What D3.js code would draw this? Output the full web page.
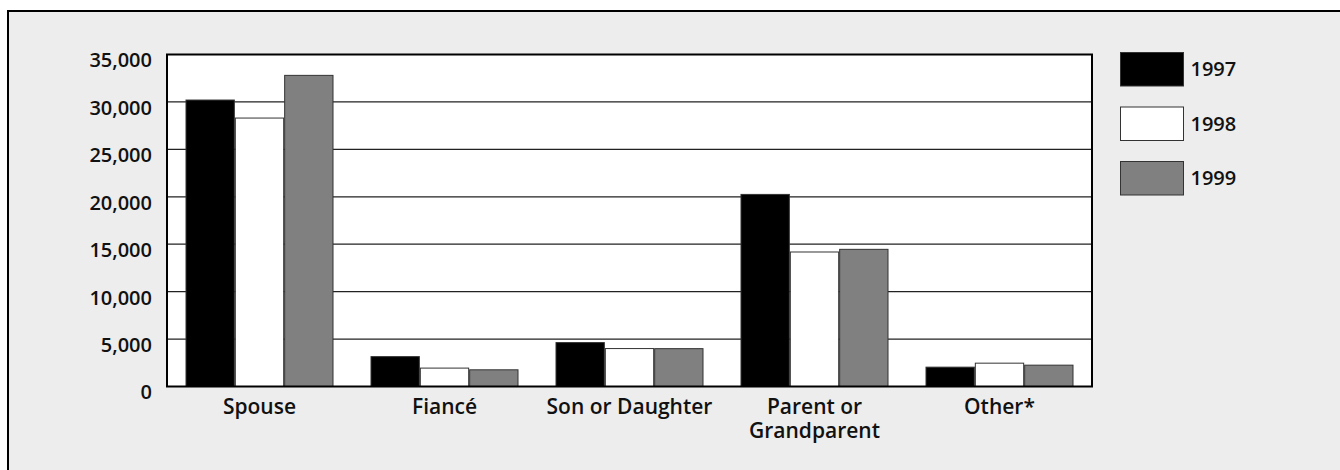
<!DOCTYPE html>
<html>
<head>
<meta charset="utf-8">
<script src="https://cdn.jsdelivr.net/npm/d3@7/dist/d3.min.js"></script>
<style>
  html, body { margin: 0; padding: 0; background: #ffffff; }
  svg { display: block; }
  text { font-family: "Open Sans", "DejaVu Sans", sans-serif; font-weight: 600; fill: #111; }
</style>
</head>
<body>
<svg id="chart" width="1340" height="470"></svg>
<script>
const categories = ["Spouse", "Fiancé", "Son or Daughter", "Parent or\nGrandparent", "Other*"];
const years = ["1997", "1998", "1999"];
const values1997 = [30200, 3150, 4630, 20250, 2040];
const values1998 = [28300, 1940, 4000, 14180, 2460];
const values1999 = [32800, 1760, 3990, 14460, 2250];
const yTicks = [0, 5000, 10000, 15000, 20000, 25000, 30000, 35000];
const colors = ["#000000", "#ffffff", "#808080"];

(function () {
const series = [values1997, values1998, values1999];
const svg = d3.select("#chart");

// outer frame
svg.append("rect").attr("x", 8).attr("y", 11).attr("width", 1400).attr("height", 500)
  .attr("fill", "#ededed").attr("stroke", "#000").attr("stroke-width", 2);

const pLeft = 167, pRight = 1092, pTop = 54.5, pBottom = 386.5;

const x = d3.scaleBand().domain(categories).range([pLeft, pRight]).paddingInner(0.2).paddingOuter(0.1);
const x1 = d3.scaleBand().domain(years).range([0, x.bandwidth()]).padding(0);
const y = d3.scaleLinear().domain([0, 35000]).range([pBottom, pTop]);
const fmt = d3.format(",");

// plot background
svg.append("rect").attr("x", pLeft).attr("y", pTop).attr("width", pRight - pLeft).attr("height", pBottom - pTop)
  .attr("fill", "#fff");

// gridlines
svg.append("g").selectAll("line").data(yTicks.filter(d => d > 0 && d < 35000)).join("line")
  .attr("x1", pLeft).attr("x2", pRight).attr("y1", d => y(d)).attr("y2", d => y(d))
  .attr("stroke", "#222").attr("stroke-width", 1.2);

// bars
const groups = svg.append("g").selectAll("g").data(categories).join("g")
  .attr("transform", d => `translate(${x(d)},0)`);
groups.selectAll("rect").data((c, ci) => years.map((yr, yi) => ({ yr, yi, v: series[yi][ci] }))).join("rect")
  .attr("x", d => x1(d.yr) + 0.5).attr("width", x1.bandwidth() - 1)
  .attr("y", d => y(d.v)).attr("height", d => pBottom - y(d.v))
  .attr("fill", d => colors[d.yi]).attr("stroke", "#333").attr("stroke-width", 1);

// plot border
svg.append("rect").attr("x", pLeft).attr("y", pTop).attr("width", pRight - pLeft).attr("height", pBottom - pTop)
  .attr("fill", "none").attr("stroke", "#000").attr("stroke-width", 2);

// y axis labels
const yAxis = d3.axisLeft(y).tickValues(yTicks).tickFormat(fmt).tickSize(0).tickPadding(15);
const ya = svg.append("g").attr("transform", `translate(${pLeft},0)`).call(yAxis);
ya.select(".domain").remove();
ya.selectAll("text").attr("font-size", 20).attr("dy", "0.62em")
  .style("font-family", '"Open Sans", sans-serif').style("font-weight", 600).attr("fill", "#111");

// x axis labels
const xl = svg.append("g").selectAll("text").data(categories).join("text")
  .attr("x", d => x(d) + x.bandwidth() / 2).attr("y", pBottom + 27)
  .attr("text-anchor", "middle").attr("font-size", 21);
xl.each(function (d) {
  const t = d3.select(this);
  d.split("\n").forEach((line, i) => {
    t.append("tspan").attr("x", x(d) + x.bandwidth() / 2).attr("dy", i === 0 ? 0 : 24).text(line);
  });
});

// legend
const lg = svg.append("g").selectAll("g").data(years).join("g")
  .attr("transform", (d, i) => `translate(1120.5,${52.5 + i * 54.5})`);
lg.append("rect").attr("width", 63).attr("height", 33.5)
  .attr("fill", (d, i) => colors[i]).attr("stroke", "#333").attr("stroke-width", 1);
lg.append("text").attr("x", 70).attr("y", 23.5).attr("font-size", 20).text(d => d);
})();
</script>
</body>
</html>
